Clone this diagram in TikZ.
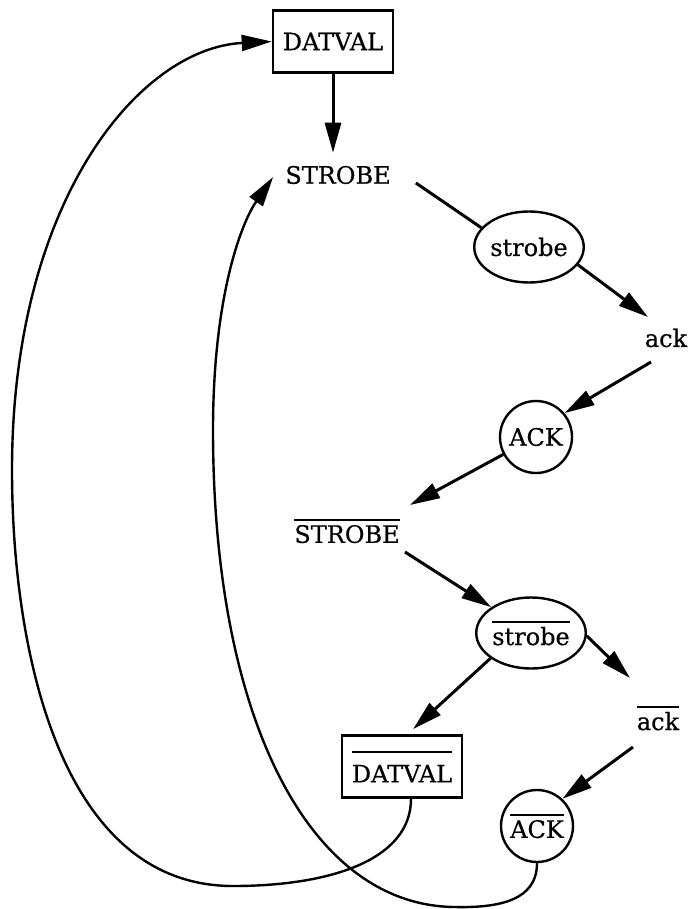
\documentclass[tikz,border=0pt]{standalone}
\usepackage{fontspec}
\setmainfont{DejaVu Serif}[FakeBold=0.5]
\usetikzlibrary{arrows.meta,shapes.geometric}

% text with a bar over it; optional gap between bar and letters
\newcommand\ovl[2][4pt]{\leavevmode\vbox{\hrule height 2.2pt\kern#1\hbox{#2}}}

\tikzset{
  every node/.style={font=\fontsize{24}{28}\selectfont},
  lbl/.style={inner sep=0pt},
  box/.style={draw, line width=2.6pt, rectangle, minimum width=120pt, minimum height=62pt, inner sep=0pt},
  oval/.style={draw, line width=2.4pt, ellipse, minimum width=109pt, minimum height=71pt, inner sep=0pt},
  ring/.style={draw, line width=2.4pt, circle, minimum size=72pt, inner sep=0pt},
  arr/.style={line width=3pt, -{Triangle[length=30pt,width=16pt]}},
  plain/.style={line width=3pt},
  loopback/.style={line width=2.4pt, -{Triangle[length=30pt,width=16pt]}},
}

\begin{document}
\begin{tikzpicture}[x=1pt,y=-1pt]
  \useasboundingbox (0,0) rectangle (692,909);

  % states
  \node[box]  (datval) at (333,41.5) {DATVAL};
  \node[lbl]  (STROBE) at (338,175)  {STROBE};
  \node[oval] (strobe) at (529,247)  {strobe};
  \node[lbl]  (ack)    at (666,338)  {ack};
  \node[ring] (ACK)    at (536,437)  {ACK};
  \node[lbl]  (SB)     at (347,531)  {\ovl{STROBE}};
  \node[oval] (sbar)   at (531,633)  {\ovl{strobe}};
  \node[lbl]  (abar)   at (658,718)  {\ovl{ack}};
  \node[box]  (dbar)   at (402,766.5){\ovl[12pt]{DATVAL}};
  \node[ring] (Abar)   at (537,826)  {\ovl{ACK}};

  % straight transitions
  \draw[arr, shorten >=13pt] (datval.south) -- (datval.south |- STROBE.north);
  \draw[plain] ([shift={(25,8)}]STROBE.east) -- (strobe.158);
  \draw[arr] (strobe.-20) -- ([shift={(-18,-21)}]ack.center);
  \draw[arr] ([shift={(-15,24)}]ack.center) -- (ACK.40);
  \draw[arr] (ACK.208) -- ([shift={(63,-26)}]SB.center);
  \draw[arr] ([shift={(58,21)}]SB.center) -- (sbar.147);
  \draw[arr] (sbar.-3) -- ([shift={(-28,-40)}]abar.center);
  \draw[arr] (sbar.212) -- ([shift={(11,-5)}]dbar.north);
  \draw[arr] ([shift={(-25,29)}]abar.center) -- (Abar.47);

  % return paths
  \draw[loopback] ([xshift=9pt]dbar.south)
    .. controls (411,860) and (330,886) .. (233,886)
    .. controls (60,886) and (12,650) .. (12,470)
    .. controls (12,200) and (140,48) .. (datval.west);
  \draw[loopback] (Abar.south)
    .. controls (537,900) and (500,908) .. (455,907)
    .. controls (310,906) and (213,720) .. (213,430)
    .. controls (213,300) and (240,225) .. ([shift={(-12,2)}]STROBE.west);
\end{tikzpicture}
\end{document}
